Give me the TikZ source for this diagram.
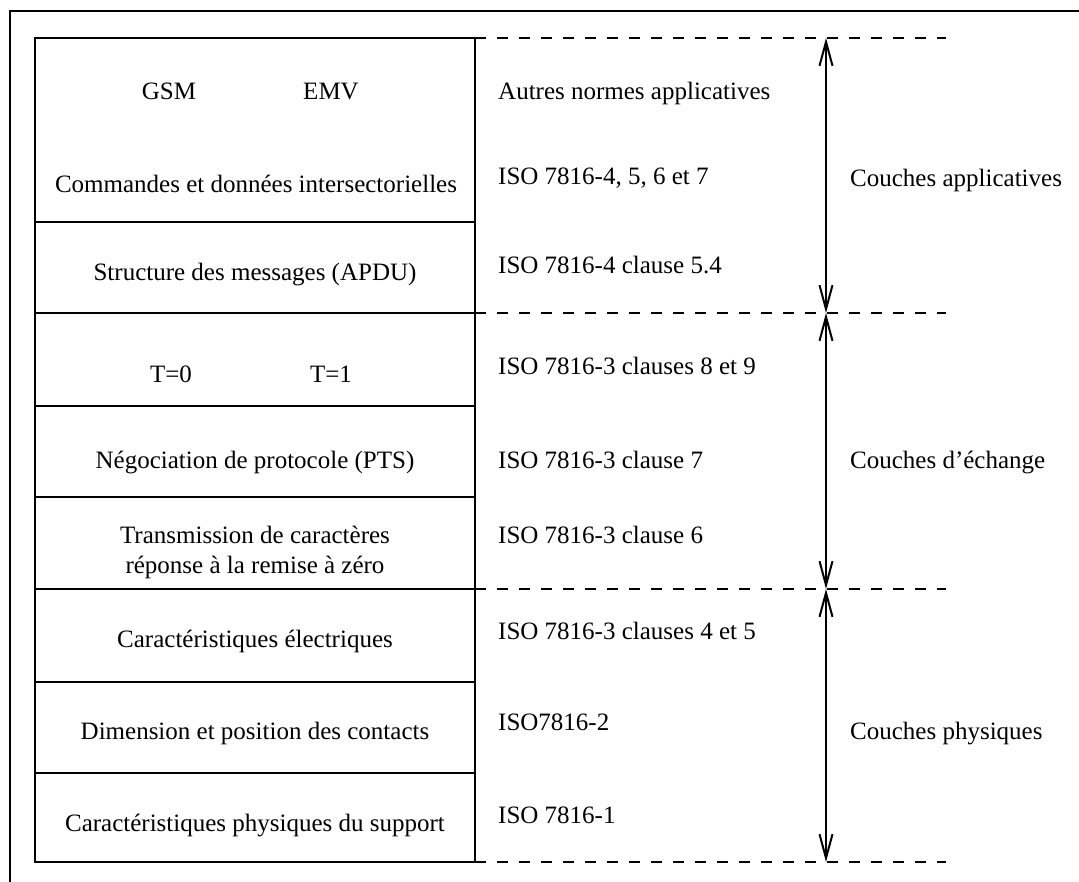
\documentclass[tikz,border=0pt]{standalone}
\usepackage{fontspec}
\setmainfont{Liberation Serif}
\usetikzlibrary{arrows.meta}
\begin{document}
\begin{tikzpicture}[x=1pt,y=-1pt,
  lbl/.style={anchor=base,inner sep=0pt,font=\fontsize{25}{30}\selectfont},
  ref/.style={lbl,anchor=base west},
  frame/.style={line width=2pt},
  rule/.style={line width=2.4pt},
  sep/.style={line width=2.4pt,dash pattern=on 11pt off 11pt},
  barb/.tip={Straight Barb[length=24pt,width=13pt,line width=2pt]},
  span/.style={line width=2pt,barb-barb}]
\useasboundingbox (0,0) rectangle (1079,882);

% page frame (top and left edges)
\draw[frame] (10,882) -- (10,11) -- (1079,11);

% layer table
\draw[rule] (35,38) rectangle (475,862);
\foreach \yy in {222,313,406,497,589,682,773}
  \draw[rule] (35,\yy) -- (475,\yy);

% dashed layer boundaries
\foreach \yy in {38,313,589,862}
  \draw[sep] (475,\yy) -- (946,\yy);

% extent arrows of the three layer groups
\coordinate (a0) at (826,38);
\coordinate (a1) at (826,313);
\coordinate (a2) at (826,589);
\coordinate (a3) at (826,862);
\draw[span] (a0) -- (a1);
\draw[span] (a1) -- (a2);
\draw[span] (a2) -- (a3);

% left column: functions
\node[lbl] (gsm) at (169,100) {GSM};
\node[lbl] (emv) at (331,100) {EMV};
\node[lbl] (cmd) at (256,193) {Commandes et données intersectorielles};
\node[lbl] (apdu) at (255,281) {Structure des messages (APDU)};
\node[lbl] (t0) at (171,383) {T=0};
\node[lbl] (t1) at (331,383) {T=1};
\node[lbl] (pts) at (255,468) {Négociation de protocole (PTS)};
\node[lbl,align=center] (car) at (255,573) {Transmission de caractères\\réponse à la remise à zéro};
\node[lbl] (elec) at (255,647) {Caractéristiques électriques};
\node[lbl] (cont) at (255,739) {Dimension et position des contacts};
\node[lbl] (supp) at (255,831) {Caractéristiques physiques du support};

% middle column: standards
\node[ref] (n1) at (498,100) {Autres normes applicatives};
\node[ref] (n2) at (498,185) {ISO 7816-4, 5, 6 et 7};
\node[ref] (n3) at (498,274) {ISO 7816-4 clause 5.4};
\node[ref] (n4) at (498,375) {ISO 7816-3 clauses 8 et 9};
\node[ref] (n5) at (498,468) {ISO 7816-3 clause 7};
\node[ref] (n6) at (498,543) {ISO 7816-3 clause 6};
\node[ref] (n7) at (498,639) {ISO 7816-3 clauses 4 et 5};
\node[ref] (n8) at (498,730) {ISO7816-2};
\node[ref] (n9) at (498,823) {ISO 7816-1};

% right column: layer groups
\node[ref] (g1) at (850,187) {Couches applicatives};
\node[ref] (g2) at (850,468) {Couches d’échange};
\node[ref] (g3) at (850,739) {Couches physiques};
\end{tikzpicture}
\end{document}
